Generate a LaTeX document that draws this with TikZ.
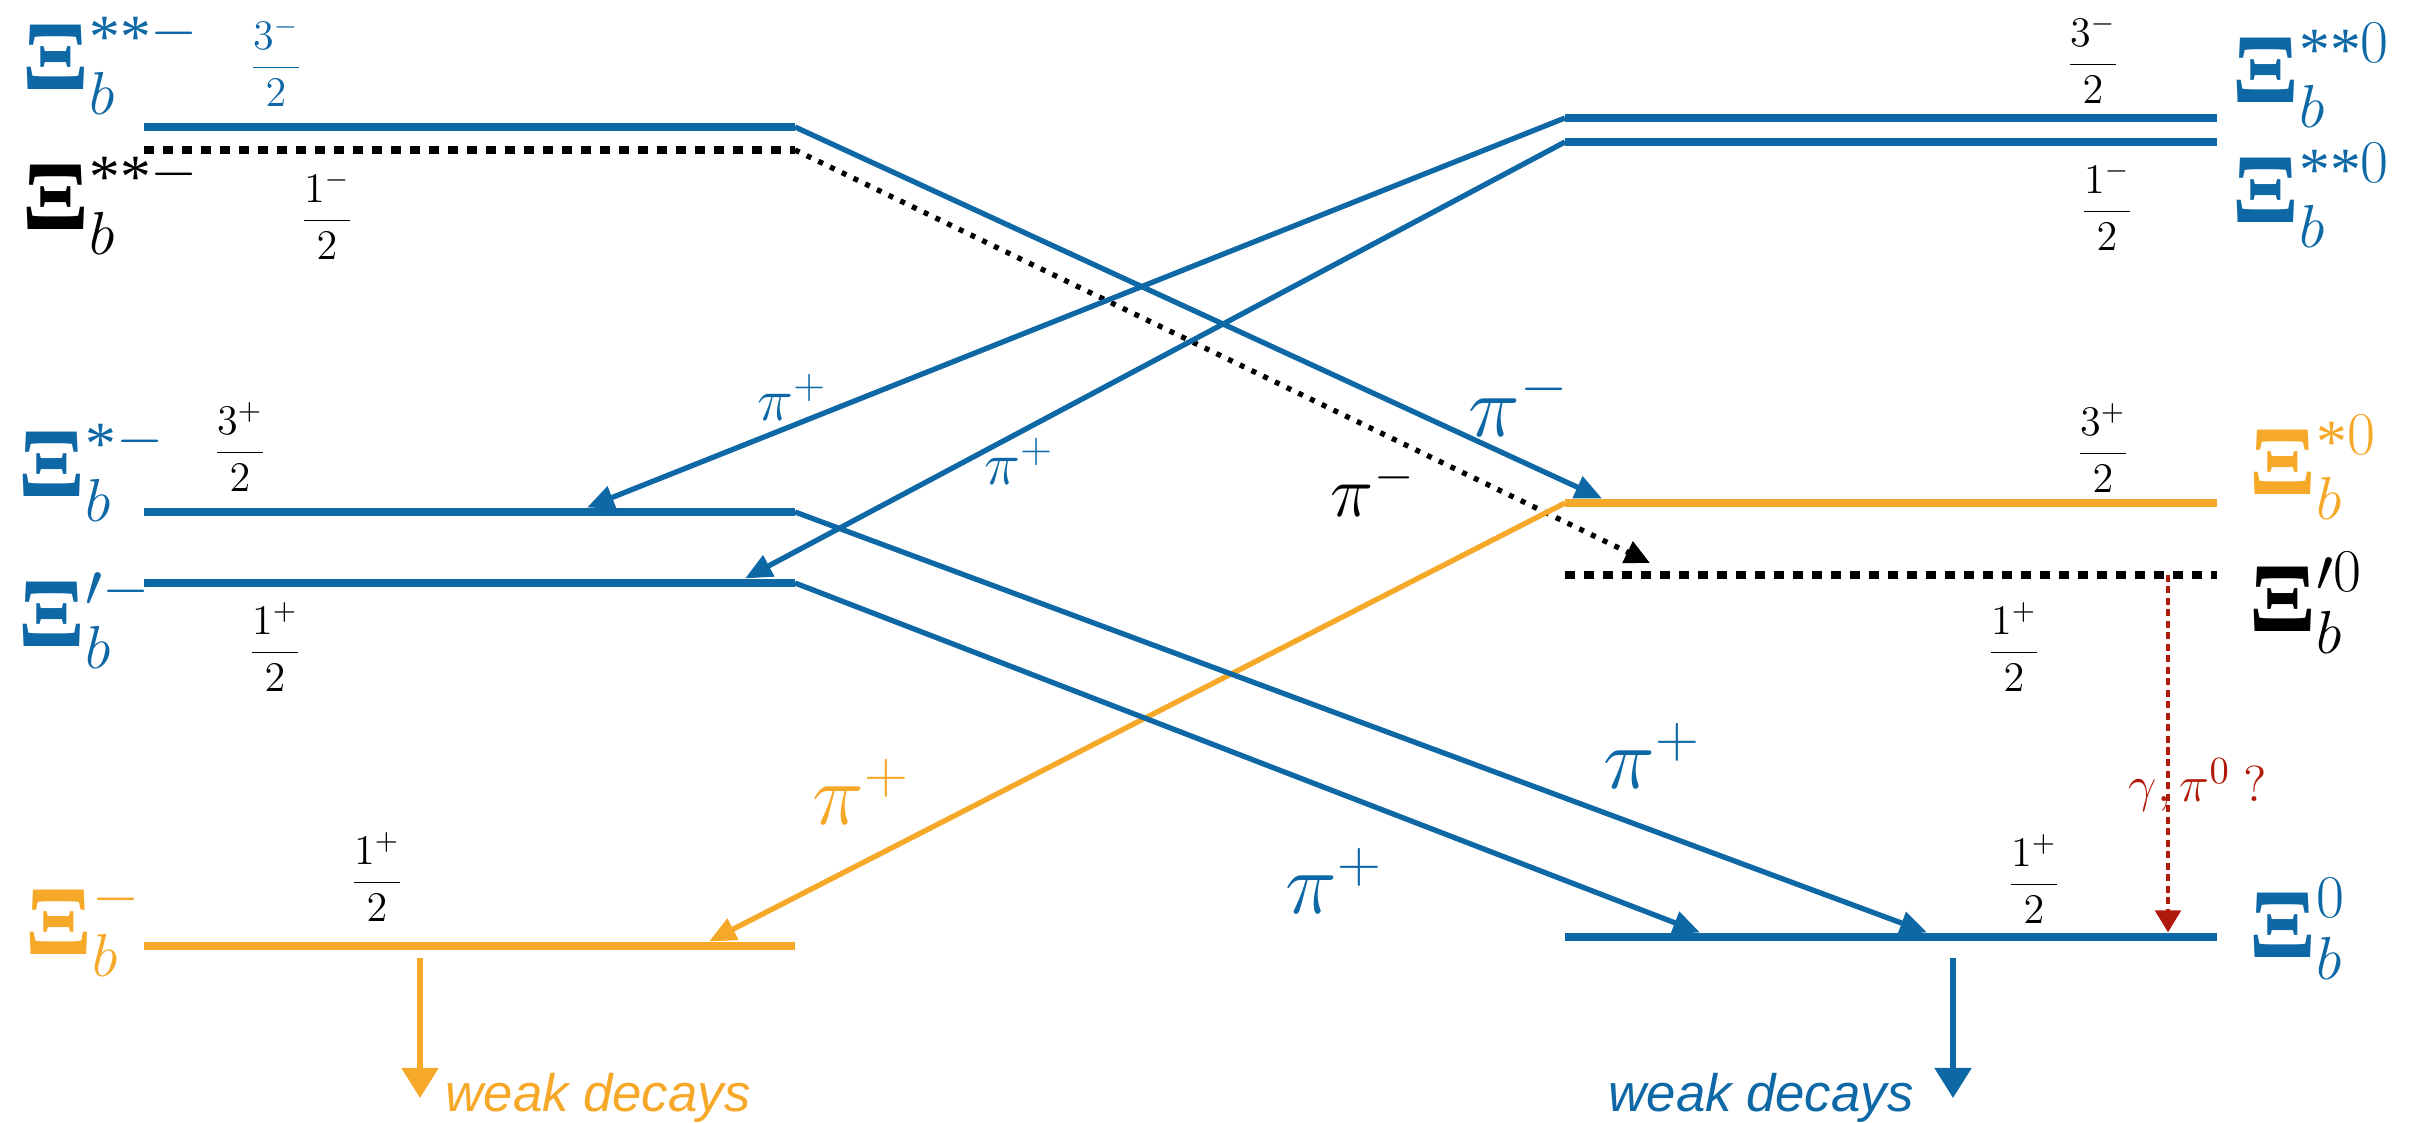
\documentclass[tikz,border=0pt]{standalone}
\usepackage{amsmath,amssymb}
\usepackage{fontspec}
\setmainfont{Liberation Serif}
\newfontfamily\decayfont{Liberation Sans}
\usetikzlibrary{arrows.meta,calc,positioning}
\definecolor{xiblue}{HTML}{0E68A6}
\definecolor{xiorange}{HTML}{F6A828}
\definecolor{xired}{HTML}{B01A0A}

\newcommand{\Xib}{\mbox{\fontsize{28}{31}\selectfont\bfseries Ξ}}
\newcommand{\xistar}[1]{\raisebox{-2.5pt}{\fontsize{17.5}{20}\selectfont #1}}

\tikzset{
  stateline/.style={line width=0.085cm},
  statedots/.style={line width=0.085cm,dash pattern=on 0.1cm off 0.09cm},
  pion/.style={line width=1.5pt,-{Triangle[width=0.23cm,length=0.27cm]}},
  weakline/.style={line width=1.5pt,-{Triangle[width=0.36cm,length=0.3cm]}},
  xilabel/.style={font=\fontsize{25}{30}\selectfont,inner sep=0pt,anchor=base west},
  spinlabel/.style={font=\fontsize{12}{14}\selectfont,inner sep=0pt},
  pibig/.style={font=\fontsize{23}{27}\selectfont,inner sep=0pt},
  pismall/.style={font=\fontsize{18}{21}\selectfont,inner sep=0pt},
  weaklabel/.style={font=\decayfont\itshape\fontsize{15}{18}\selectfont,inner sep=0pt}
}

\begin{document}
\begin{tikzpicture}
  \useasboundingbox (0,0) rectangle (24.10,11.23);
  % left column: charge -
  \coordinate (l1w) at (1.44,9.96);  \coordinate (l1e) at (7.95,9.96);
  \coordinate (l2w) at (1.44,9.73);  \coordinate (l2e) at (7.95,9.73);
  \coordinate (l3w) at (1.44,6.11);  \coordinate (l3e) at (7.95,6.11);
  \coordinate (l4w) at (1.44,5.40);  \coordinate (l4e) at (7.95,5.40);
  \coordinate (l5w) at (1.44,1.77);  \coordinate (l5e) at (7.95,1.77);
  % right column: charge 0
  \coordinate (r1w) at (15.65,10.05); \coordinate (r1e) at (22.17,10.05);
  \coordinate (r2w) at (15.65,9.81);  \coordinate (r2e) at (22.17,9.81);
  \coordinate (r3w) at (15.65,6.20);  \coordinate (r3e) at (22.17,6.20);
  \coordinate (r4w) at (15.65,5.48);  \coordinate (r4e) at (22.17,5.48);
  \coordinate (r5w) at (15.65,1.86);  \coordinate (r5e) at (22.17,1.86);

  \draw[stateline,xiblue] (l1w) -- (l1e);
  \draw[statedots] (l2w) -- (l2e);
  \draw[stateline,xiblue] (l3w) -- (l3e);
  \draw[stateline,xiblue] (l4w) -- (l4e);
  \draw[stateline,xiorange] (l5w) -- (l5e);
  \draw[stateline,xiblue] (r1w) -- (r1e);
  \draw[stateline,xiblue] (r2w) -- (r2e);
  \draw[stateline,xiorange] (r3w) -- (r3e);
  \draw[statedots] (r4w) -- (r4e);
  \draw[stateline,xiblue] (r5w) -- (r5e);

  % state names (base = baseline of the Xi)
  \node[xilabel,text=xiblue] (xi1) at (0.22,10.33) {$\Xib_{b}^{\xistar{**}-}$};
  \node[xilabel] (xi2) at (0.22,8.93) {$\Xib_{b}^{\xistar{**}-}$};
  \node[xilabel,text=xiblue] (xi3) at (0.18,6.26) {$\Xib_{b}^{\xistar{*}-}$};
  \node[xilabel,text=xiblue] (xi4) at (0.18,4.76) {$\Xib_{b}^{\prime -}$};
  \node[xilabel,text=xiorange] (xi5) at (0.25,1.68) {$\Xib_{b}^{-}$};
  \node[xilabel,text=xiblue] (xi6) at (22.32,10.20) {$\Xib_{b}^{\xistar{**}0}$};
  \node[xilabel,text=xiblue] (xi7) at (22.32,9.00) {$\Xib_{b}^{\xistar{**}0}$};
  \node[xilabel,text=xiorange] (xi8) at (22.49,6.28) {$\Xib_{b}^{\xistar{*}0}$};
  \node[xilabel] (xi9) at (22.49,4.91) {$\Xib_{b}^{\prime 0}$};
  \node[xilabel,text=xiblue] (xi10) at (22.49,1.65) {$\Xib_{b}^{0}$};

  % J^P
  \node[spinlabel,text=xiblue] (jp1) at (2.76,10.61) {$\dfrac{3^{-}}{2}$};
  \node[spinlabel] (jp2) at (3.27,9.08) {$\dfrac{1^{-}}{2}$};
  \node[spinlabel] (jp3) at (2.40,6.76) {$\dfrac{3^{+}}{2}$};
  \node[spinlabel] (jp4) at (2.75,4.76) {$\dfrac{1^{+}}{2}$};
  \node[spinlabel] (jp5) at (3.77,2.46) {$\dfrac{1^{+}}{2}$};
  \node[spinlabel] (jp6) at (20.93,10.64) {$\dfrac{3^{-}}{2}$};
  \node[spinlabel] (jp7) at (21.07,9.17) {$\dfrac{1^{-}}{2}$};
  \node[spinlabel] (jp8) at (21.03,6.75) {$\dfrac{3^{+}}{2}$};
  \node[spinlabel] (jp9) at (20.14,4.76) {$\dfrac{1^{+}}{2}$};
  \node[spinlabel] (jp10) at (20.34,2.44) {$\dfrac{1^{+}}{2}$};

  % where the pions land
  \coordinate (t1) at (16.02,6.245);
  \coordinate (t2) at (16.50,5.60);
  \coordinate (t3) at (5.87,6.155);
  \coordinate (t4) at (7.45,5.445);
  \coordinate (t5) at (7.09,1.815);
  \coordinate (t6) at (19.27,1.905);
  \coordinate (t7) at (17.00,1.905);

  \draw[pion,xiblue] (l1e) -- (t1);
  \draw[line width=1.5pt,dash pattern=on 0.05cm off 0.08cm,-{Triangle[width=0.23cm,length=0.25cm]}] (l2e) -- (t2);
  \draw[pion,xiblue] (r1w) -- (t3);
  \draw[pion,xiblue] (r2w) -- (t4);
  \draw[pion,xiorange] (r3w) -- (t5);
  \draw[pion,xiblue] (l3e) -- (t6);
  \draw[pion,xiblue] (l4e) -- (t7);

  \node[pibig,text=xiblue] (pi1) at (15.19,7.20) {$\pi^{-}$};
  \node[font=\fontsize{20}{24}\selectfont,inner sep=0pt] (pi2) at (13.73,6.34) {$\pi^{-}$};
  \node[pismall,text=xiblue] (pi3) at (7.92,7.26) {$\pi^{+}$};
  \node[pismall,text=xiblue] (pi4) at (10.19,6.62) {$\pi^{+}$};
  \node[pibig,text=xiorange] (pi5) at (8.61,3.31) {$\pi^{+}$};
  \node[pibig,text=xiblue] (pi6) at (16.52,3.67) {$\pi^{+}$};
  \node[pibig,text=xiblue] (pi7) at (13.34,2.42) {$\pi^{+}$};

  % radiative transition
  \coordinate (g1) at (21.68,5.48);
  \coordinate (g2) at (21.68,1.905);
  \draw[xired,line width=1.4pt,dash pattern=on 0.07cm off 0.045cm,-{Triangle[width=0.25cm,length=0.22cm]}] (g1) -- (g2);
  \node[font=\fontsize{15}{18}\selectfont,text=xired,inner sep=0pt] (gam) at (21.98,3.38) {$\gamma,\pi^{0}\ ?$};

  % weak decays
  \coordinate (w1) at (4.20,1.65);  \coordinate (w2) at (4.20,0.25);
  \coordinate (w3) at (19.53,1.65); \coordinate (w4) at (19.53,0.25);
  \draw[weakline,xiorange] (w1) -- (w2);
  \draw[weakline,xiblue] (w3) -- (w4);
  \node[weaklabel,text=xiorange,anchor=base west] (wd1) at (4.45,0.11) {weak decays};
  \node[weaklabel,text=xiblue,anchor=base west] (wd2) at (16.08,0.11) {weak decays};
\end{tikzpicture}
\end{document}
